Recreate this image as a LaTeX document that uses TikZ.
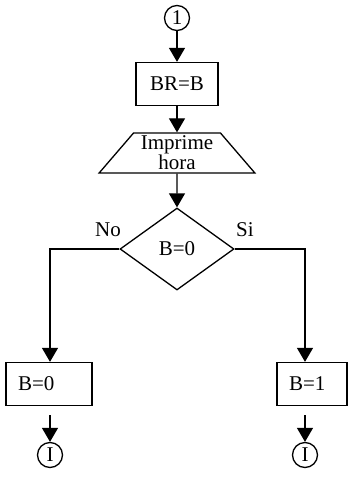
\documentclass[tikz,border=0pt]{standalone}
\usepackage{fontspec}
\setmainfont{Liberation Serif}
\usetikzlibrary{shapes.geometric,arrows.meta}

\begin{document}
\begin{tikzpicture}[x=1pt,y=-1pt]
\tikzstyle{every node}=[font=\fontsize{21}{20}\selectfont]
\tikzstyle{conector}=[circle,draw,line width=1.3pt,minimum size=25pt,inner sep=0pt]
\tikzstyle{proceso}=[rectangle,draw,line width=1.3pt,minimum height=43pt,inner sep=0pt]
\tikzstyle{flecha}=[line width=1.3pt,-{Triangle[length=14pt,width=16pt]}]
\useasboundingbox (0,0) rectangle (348,479);
\node[conector] (ini) at (177,18) {1};
\node[proceso,minimum width=82pt] (br) at (177,84) {BR=B};
\node[trapezium,draw,line width=1.3pt,trapezium stretches=true,trapezium angle=50,
      minimum width=156pt,minimum height=40pt,inner sep=0pt,align=center] (imp) at (177,153) {Imprime\\hora};
\node[diamond,draw,line width=1.3pt,minimum width=114pt,minimum height=82pt,inner sep=0pt] (dec) at (177,249) {B=0};
\node (no) at (108,230) {No};
\node (si) at (245,230) {Si};
\node[proceso,text width=62pt,inner xsep=12pt,align=left] (b0) at (49,384) {B=0};
\node[proceso,text width=46pt,inner xsep=12pt,align=left] (b1) at (312,384) {B=1};
\coordinate (esqsi) at (305,249);
\foreach \name/\point in {
	f0/{50,455},
	f1/{305,455}}
	\node[conector] (\name) at (\point) {I};
\draw[flecha] (ini) -- (br);
\draw[flecha] (br) -- (imp);
\draw[flecha] (imp) -- (dec);
\draw[flecha] (dec.west) -| (b0.north -| f0);
\draw[flecha] (dec.east) -- (esqsi) -- (esqsi |- b1.north);
\draw[flecha,shorten <=9pt] (f0 |- b0.south) -- (f0);
\draw[flecha,shorten <=9pt] (f1 |- b1.south) -- (f1);
\end{tikzpicture}
\end{document}
